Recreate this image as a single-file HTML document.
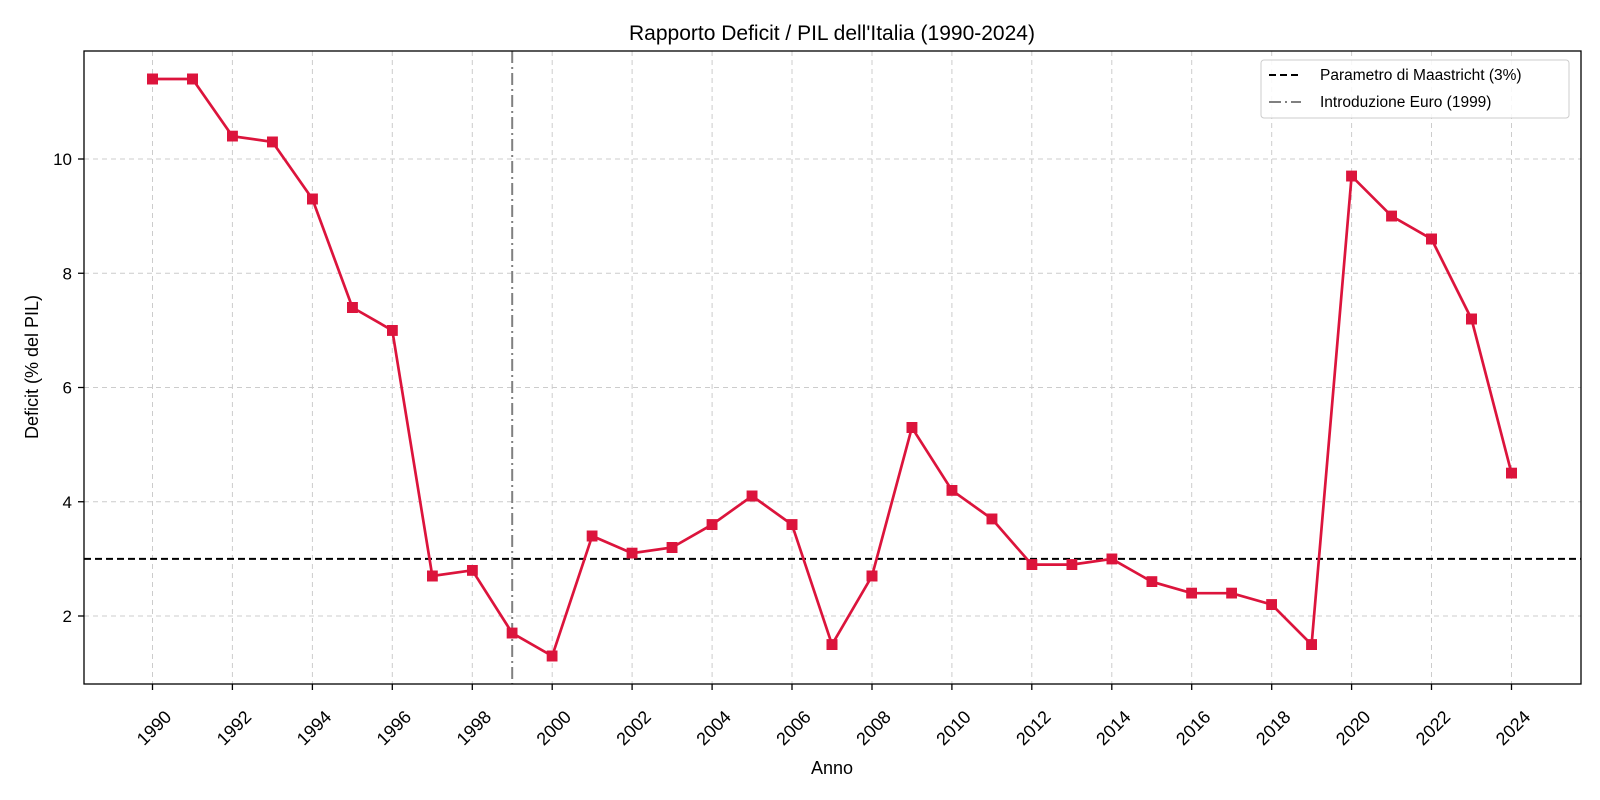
<!DOCTYPE html>
<html><head><meta charset="utf-8"><style>
html,body{margin:0;padding:0;background:#fff;}
svg{display:block;font-family:"Liberation Sans",sans-serif;}
</style></head><body>
<svg width="1600" height="800" viewBox="0 0 1600 800" xmlns="http://www.w3.org/2000/svg">
<defs><marker id="sq" markerWidth="11" markerHeight="11" refX="5.5" refY="5.5" markerUnits="userSpaceOnUse"><rect width="11" height="11" fill="#DC143C"/></marker></defs>
<rect width="1600" height="800" fill="#fff"/>
<g stroke="#cccccc" stroke-width="1" stroke-dasharray="5,4">
<line x1="152.5" y1="51" x2="152.5" y2="684"/><line x1="232.4" y1="51" x2="232.4" y2="684"/><line x1="312.4" y1="51" x2="312.4" y2="684"/><line x1="392.3" y1="51" x2="392.3" y2="684"/><line x1="472.3" y1="51" x2="472.3" y2="684"/><line x1="552.2" y1="51" x2="552.2" y2="684"/><line x1="632.1" y1="51" x2="632.1" y2="684"/><line x1="712.1" y1="51" x2="712.1" y2="684"/><line x1="792" y1="51" x2="792" y2="684"/><line x1="872" y1="51" x2="872" y2="684"/><line x1="951.9" y1="51" x2="951.9" y2="684"/><line x1="1031.8" y1="51" x2="1031.8" y2="684"/><line x1="1111.8" y1="51" x2="1111.8" y2="684"/><line x1="1191.7" y1="51" x2="1191.7" y2="684"/><line x1="1271.7" y1="51" x2="1271.7" y2="684"/><line x1="1351.6" y1="51" x2="1351.6" y2="684"/><line x1="1431.5" y1="51" x2="1431.5" y2="684"/><line x1="1511.5" y1="51" x2="1511.5" y2="684"/>
<line x1="84" y1="616" x2="1581" y2="616"/><line x1="84" y1="501.75" x2="1581" y2="501.75"/><line x1="84" y1="387.5" x2="1581" y2="387.5"/><line x1="84" y1="273.25" x2="1581" y2="273.25"/><line x1="84" y1="159" x2="1581" y2="159"/>
</g>
<g stroke="#000" stroke-width="1.3">
<line x1="152.5" y1="684" x2="152.5" y2="690"/><line x1="232.4" y1="684" x2="232.4" y2="690"/><line x1="312.4" y1="684" x2="312.4" y2="690"/><line x1="392.3" y1="684" x2="392.3" y2="690"/><line x1="472.3" y1="684" x2="472.3" y2="690"/><line x1="552.2" y1="684" x2="552.2" y2="690"/><line x1="632.1" y1="684" x2="632.1" y2="690"/><line x1="712.1" y1="684" x2="712.1" y2="690"/><line x1="792" y1="684" x2="792" y2="690"/><line x1="872" y1="684" x2="872" y2="690"/><line x1="951.9" y1="684" x2="951.9" y2="690"/><line x1="1031.8" y1="684" x2="1031.8" y2="690"/><line x1="1111.8" y1="684" x2="1111.8" y2="690"/><line x1="1191.7" y1="684" x2="1191.7" y2="690"/><line x1="1271.7" y1="684" x2="1271.7" y2="690"/><line x1="1351.6" y1="684" x2="1351.6" y2="690"/><line x1="1431.5" y1="684" x2="1431.5" y2="690"/><line x1="1511.5" y1="684" x2="1511.5" y2="690"/>
<line x1="78" y1="616" x2="84" y2="616"/><line x1="78" y1="501.75" x2="84" y2="501.75"/><line x1="78" y1="387.5" x2="84" y2="387.5"/><line x1="78" y1="273.25" x2="84" y2="273.25"/><line x1="78" y1="159" x2="84" y2="159"/>
</g>
<g font-size="17" text-anchor="end">
<text x="72" y="622">2</text><text x="72" y="507.75">4</text><text x="72" y="393.5">6</text><text x="72" y="279.25">8</text><text x="72" y="165">10</text>
</g>
<g font-size="18" text-anchor="end">
<text transform="translate(172.5,718) rotate(-45)">1990</text>
<text transform="translate(252.4,718) rotate(-45)">1992</text>
<text transform="translate(332.4,718) rotate(-45)">1994</text>
<text transform="translate(412.3,718) rotate(-45)">1996</text>
<text transform="translate(492.3,718) rotate(-45)">1998</text>
<text transform="translate(572.2,718) rotate(-45)">2000</text>
<text transform="translate(652.1,718) rotate(-45)">2002</text>
<text transform="translate(732.1,718) rotate(-45)">2004</text>
<text transform="translate(812,718) rotate(-45)">2006</text>
<text transform="translate(892,718) rotate(-45)">2008</text>
<text transform="translate(971.9,718) rotate(-45)">2010</text>
<text transform="translate(1051.8,718) rotate(-45)">2012</text>
<text transform="translate(1131.8,718) rotate(-45)">2014</text>
<text transform="translate(1211.7,718) rotate(-45)">2016</text>
<text transform="translate(1291.7,718) rotate(-45)">2018</text>
<text transform="translate(1371.6,718) rotate(-45)">2020</text>
<text transform="translate(1451.5,718) rotate(-45)">2022</text>
<text transform="translate(1531.5,718) rotate(-45)">2024</text>
</g>
<line x1="84" y1="558.9" x2="1581" y2="558.9" stroke="#000" stroke-width="2" stroke-dasharray="7,4"/>
<line x1="512.2" y1="51" x2="512.2" y2="684" stroke="#808080" stroke-width="2" stroke-dasharray="12,4,2,4"/>
<polyline fill="none" stroke="#DC143C" stroke-width="2.7" marker-start="url(#sq)" marker-mid="url(#sq)" marker-end="url(#sq)" points="152.5,79 192.5,79 232.4,136.2 272.4,141.9 312.4,199 352.4,307.5 392.3,330.4 432.3,576 472.3,570.3 512.2,633.1 552.2,656 592.2,536 632.1,553.2 672.1,547.5 712.1,524.6 752.1,496 792,524.6 832,644.6 872,576 911.9,427.5 951.9,490.3 991.9,518.9 1031.8,564.6 1071.8,564.6 1111.8,558.9 1151.8,581.7 1191.7,593.2 1231.7,593.2 1271.7,604.6 1311.6,644.6 1351.6,176.1 1391.6,216.1 1431.5,239 1471.5,319 1511.5,473.2"/>
<rect x="84" y="51" width="1497" height="633" fill="none" stroke="#000" stroke-width="1.3"/>
<text x="832" y="40" text-anchor="middle" font-size="21">Rapporto Deficit / PIL dell'Italia (1990-2024)</text>
<text x="832" y="774" text-anchor="middle" font-size="18">Anno</text>
<text transform="translate(38,367) rotate(-90)" text-anchor="middle" font-size="18">Deficit (% del PIL)</text>
<rect x="1261" y="60" width="308" height="58" rx="3" fill="#fff" fill-opacity="0.85" stroke="#cccccc"/>
<line x1="1269" y1="75" x2="1301" y2="75" stroke="#000" stroke-width="2" stroke-dasharray="7,4"/>
<line x1="1269" y1="102" x2="1301" y2="102" stroke="#808080" stroke-width="2" stroke-dasharray="12,4,2,4"/>
<text x="1320" y="80" font-size="15.5">Parametro di Maastricht (3%)</text>
<text x="1320" y="107" font-size="15.5">Introduzione Euro (1999)</text>
</svg>
</body></html>
